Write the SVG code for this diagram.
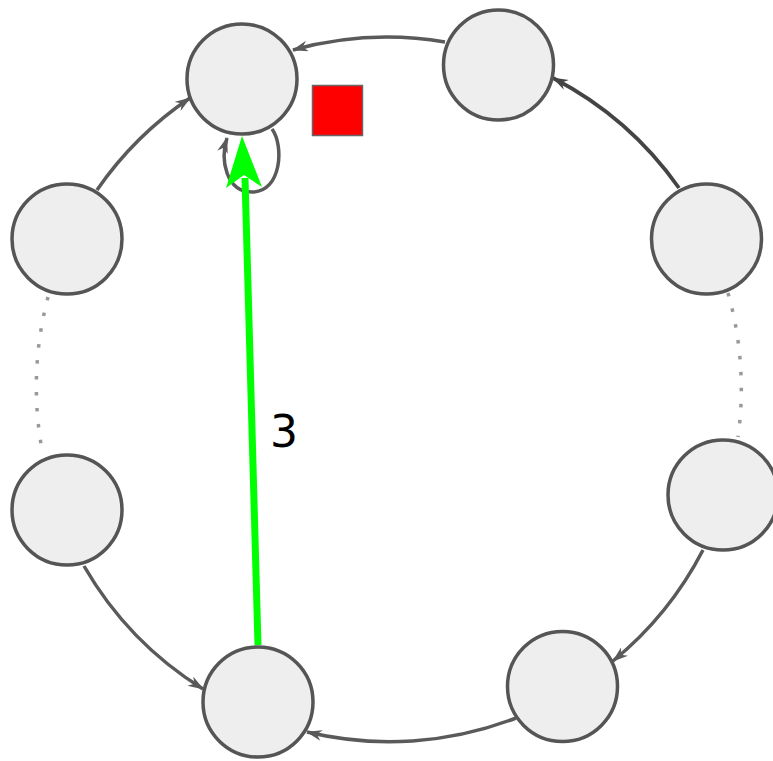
<svg xmlns="http://www.w3.org/2000/svg" width="773" height="761" viewBox="0 0 773 761">
<defs>
<style>
.node{fill:#eeeeee;stroke:#555555;stroke-width:3.5}
.edge{fill:none;stroke:#5a5a5a;stroke-width:3.5}
.dark{stroke:#444444;stroke-width:3.7}
.dot{fill:none;stroke:#999999;stroke-width:3.5;stroke-dasharray:3.5 12.5}
.lbl{font-family:"DejaVu Sans",sans-serif;font-size:44px;fill:#000}
</style>
<marker id="arr" viewBox="0 0 16 11" refX="15" refY="5.5" markerWidth="16" markerHeight="11" markerUnits="userSpaceOnUse" orient="auto">
<path d="M0,0 L16,5.5 L0,11 L5,5.5 z" fill="#5a5a5a"/>
</marker>
<marker id="arrd" viewBox="0 0 16 11" refX="15" refY="5.5" markerWidth="16" markerHeight="11" markerUnits="userSpaceOnUse" orient="auto">
<path d="M0,0 L16,5.5 L0,11 L5,5.5 z" fill="#444444"/>
</marker>
</defs>
<rect width="773" height="761" fill="#ffffff"/>
<g id="connectors">
<path class="edge" d="M445,42 A352,352 0 0 0 293,50" marker-end="url(#arr)"/>
<path class="edge dark" d="M679,188 A352,352 0 0 0 553,78" marker-end="url(#arrd)"/>
<path class="dot" d="M728,293 A352,352 0 0 1 738,437"/>
<path class="edge" d="M703,550 A352,352 0 0 1 613,661" marker-end="url(#arr)"/>
<path class="edge" d="M516,718 A352,352 0 0 1 307,732" marker-end="url(#arr)"/>
<path class="edge" d="M84,566 A352,352 0 0 0 203,689" marker-end="url(#arr)"/>
<path class="dot" d="M48,297 A352,352 0 0 0 43,455"/>
<path class="edge" d="M97,190 A352,352 0 0 1 190,98" marker-end="url(#arr)"/>
<path class="edge" d="M272,129 C284,145 282,192 252,192 C226,192 220,160 227,138" marker-end="url(#arr)"/>
<line x1="258" y1="645" x2="245" y2="178" stroke="#00ff00" stroke-width="7"/>
<polygon points="242,136 262,187 244,175 226,188" fill="#00ff00"/>
</g>
<g id="node-a"><circle class="node" cx="242" cy="79" r="55"/></g>
<g id="node-b"><circle class="node" cx="498.5" cy="65" r="55"/></g>
<g id="node-c"><circle class="node" cx="706.5" cy="239" r="55"/></g>
<g id="node-d"><circle class="node" cx="723" cy="495" r="55"/></g>
<g id="node-e"><circle class="node" cx="562.5" cy="686.5" r="55"/></g>
<g id="node-f"><circle class="node" cx="258" cy="702" r="55"/></g>
<g id="node-g"><circle class="node" cx="67" cy="510" r="55"/></g>
<g id="node-h"><circle class="node" cx="67" cy="239" r="55"/></g>
<g id="marker-square"><rect x="312.5" y="85.5" width="50" height="50" fill="#ff0000" stroke="#666666" stroke-width="1.5"/></g>
<text class="lbl" x="284" y="447" text-anchor="middle">3</text>
</svg>
